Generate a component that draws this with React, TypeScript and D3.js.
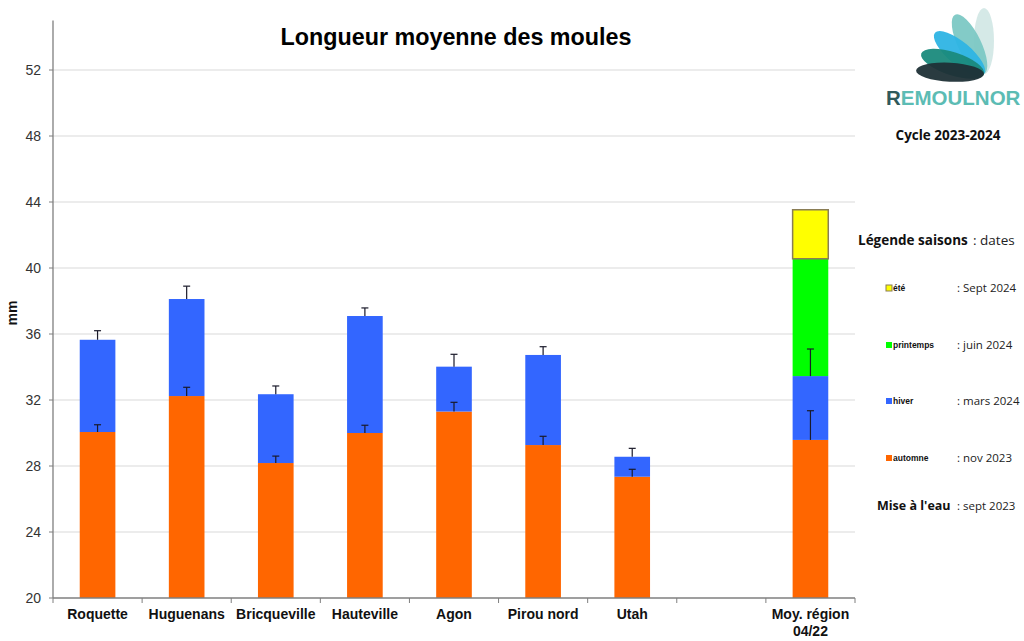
import React from "react";
import * as d3 from "d3";

const categories = ["Roquette", "Huguenans", "Bricqueville", "Hauteville", "Agon", "Pirou nord", "Utah", "", "Moy. région|04/22"];
const automne: (number | null)[] = [30.06, 32.24, 28.18, 30.0, 31.3, 29.27, 27.35, null, 29.58];
const automneErr: (number | null)[] = [0.44, 0.53, 0.42, 0.47, 0.56, 0.53, 0.45, null, 1.77];
const hiver: (number | null)[] = [35.65, 38.12, 32.35, 37.09, 34.02, 34.73, 28.56, null, 33.45];
const hiverErr: (number | null)[] = [0.55, 0.78, 0.5, 0.49, 0.75, 0.5, 0.51, null, 1.64];
const printemps: (number | null)[] = [null, null, null, null, null, null, null, null, 40.56];
const ete: (number | null)[] = [null, null, null, null, null, null, null, null, 43.53];
const yTicks = [20, 24, 28, 32, 36, 40, 44, 48, 52];

const legendItems = [
  { label: "été", date: ": Sept 2024", color: "#FFFF00", stroke: "#8a7d55", y: 288 },
  { label: "printemps", date: ":  juin 2024", color: "#00FF00", stroke: "none", y: 345 },
  { label: "hiver", date: ": mars 2024", color: "#3366FF", stroke: "none", y: 401 },
  { label: "automne", date: ": nov 2023", color: "#FF6600", stroke: "none", y: 458 },
];

const COLORS = { automne: "#FF6600", hiver: "#3366FF", printemps: "#00FF00", ete: "#FFFF00" };

export default function App() {
  const W = 1024, H = 641;
  const x0 = 53, x1 = 855, yTop = 20.5, yBot = 598;
  const x = d3.scaleBand<number>().domain(d3.range(categories.length)).range([x0, x1]).padding(0);
  const y = d3.scaleLinear().domain([20, 55]).range([yBot, yTop]);
  const bw = x.bandwidth() * 0.4;
  const font = "Arial, 'Liberation Sans', sans-serif";

  const segs: { i: number; lo: number; hi: number; color: string; stroke?: string }[] = [];
  categories.forEach((_, i) => {
    const layers = [
      { v: automne[i], c: COLORS.automne },
      { v: hiver[i], c: COLORS.hiver },
      { v: printemps[i], c: COLORS.printemps },
      { v: ete[i], c: COLORS.ete, s: "#8a7d55" },
    ];
    let prev = 20;
    layers.forEach((l) => {
      if (l.v != null) {
        segs.push({ i, lo: prev, hi: l.v, color: l.c, stroke: (l as any).s });
        prev = l.v;
      }
    });
  });

  const errs: { i: number; v: number; e: number }[] = [];
  categories.forEach((_, i) => {
    if (automne[i] != null && automneErr[i] != null) errs.push({ i, v: automne[i]!, e: automneErr[i]! });
    if (hiver[i] != null && hiverErr[i] != null) errs.push({ i, v: hiver[i]!, e: hiverErr[i]! });
  });

  const pivot = { x: 984, y: 74 };
  const petals = [
    { ang: 90, len: 66, ry: 10, color: "#d3e8e6" },
    { ang: 64, len: 66, ry: 11.5, color: "#7cc8c4" },
    { ang: 40, len: 64, ry: 11.5, color: "#2eb4e4" },
    { ang: 18, len: 66, ry: 11.5, color: "#1a8a7c" },
    { ang: 3, len: 68, ry: 9.5, color: "#1f3036" },
  ];

  return (
    <div style={{ position: "absolute", left: 0, top: 0 }}>
      <svg width={W} height={H} style={{ display: "block", background: "#fff" }} fontFamily={font}>
        <rect width={W} height={H} fill="#fff" />
        {yTicks.filter((t) => t > 20).map((t) => (
          <line key={"g" + t} x1={x0} x2={x1} y1={y(t)} y2={y(t)} stroke="#d9d9d9" strokeWidth={1} />
        ))}
        {segs.map((s, k) => (
          <rect key={"s" + k}
            x={x(s.i)! + (x.bandwidth() - bw) / 2}
            y={y(s.hi)}
            width={bw}
            height={y(s.lo) - y(s.hi)}
            fill={s.color}
            stroke={s.stroke || "none"}
            strokeWidth={s.stroke ? 1.5 : 0}
          />
        ))}
        {errs.map((e, k) => {
          const cx = x(e.i)! + x.bandwidth() / 2;
          return (
            <g key={"e" + k} stroke="#1a1a2a" strokeWidth={1.2}>
              <line x1={cx} x2={cx} y1={y(e.v)} y2={y(e.v + e.e)} />
              <line x1={cx - 3.5} x2={cx + 3.5} y1={y(e.v + e.e)} y2={y(e.v + e.e)} />
            </g>
          );
        })}
        <line x1={x0} x2={x0} y1={yTop} y2={yBot} stroke="#7f7f7f" strokeWidth={1.3} />
        <line x1={x0} x2={x1} y1={yBot} y2={yBot} stroke="#7f7f7f" strokeWidth={1.3} />
        {yTicks.map((t) => (
          <g key={"yt" + t}>
            <line x1={x0 - 4} x2={x0} y1={y(t)} y2={y(t)} stroke="#7f7f7f" strokeWidth={1} />
            <text x={41} y={y(t)} dy="0.35em" textAnchor="end" fontSize={14} fill="#333">{t}</text>
          </g>
        ))}
        {d3.range(categories.length + 1).map((i) => {
          const px = i < categories.length ? x(i)! : x1;
          return <line key={"xt" + i} x1={px} x2={px} y1={yBot} y2={yBot + 5} stroke="#7f7f7f" strokeWidth={1} />;
        })}
        {categories.map((c, i) => {
          const cx = x(i)! + x.bandwidth() / 2;
          const lines = c.split("|");
          return (
            <text key={"xl" + i} x={cx} y={619} textAnchor="middle" fontSize={14} fontWeight="bold" fill="#111">
              {lines.map((l, j) => (
                <tspan key={j} x={cx} dy={j === 0 ? 0 : 17}>{l}</tspan>
              ))}
            </text>
          );
        })}
        <text transform="translate(17,313) rotate(-90)" textAnchor="middle" fontSize={14} fontWeight="bold" fill="#111">mm</text>
        <text x={456} y={45} textAnchor="middle" fontSize={23.3} fontWeight="bold" fill="#000">Longueur moyenne des moules</text>

        {petals.map((p, k) => {
          const rad = (p.ang * Math.PI) / 180;
          const cx = pivot.x - Math.cos(rad) * p.len / 2;
          const cy = pivot.y - Math.sin(rad) * p.len / 2;
          return (
            <ellipse key={"p" + k} cx={cx} cy={cy} rx={p.len / 2} ry={p.ry} fill={p.color} opacity={0.95}
              transform={`rotate(${p.ang} ${cx} ${cy})`} />
          );
        })}
        <text x={886} y={105} fontSize={20.5} fontWeight="bold">
          <tspan fill="#2f5a5c">R</tspan><tspan fill="#5cbcb4">EMOULNOR</tspan>
        </text>
        <text x={948} y={140} textAnchor="middle" fontSize={13.5} fontWeight="bold" fill="#111" fontFamily="'Open Sans', sans-serif">Cycle 2023-2024</text>

        <text x={858} y={245} fontSize={13.5} fontWeight="bold" fill="#111" fontFamily="'Open Sans', sans-serif">Légende saisons</text>
        <text x={973} y={245} fontSize={13.5} fill="#222" fontFamily="'Open Sans', sans-serif">:  dates</text>
        {legendItems.map((l) => (
          <g key={l.label}>
            <rect x={886} y={l.y - 3} width={6} height={6} fill={l.color} stroke={l.stroke} strokeWidth={l.stroke === "none" ? 0 : 1} />
            <text x={893} y={l.y + 3} fontSize={8.5} fontWeight="bold" fill="#111">{l.label}</text>
            <text x={957} y={l.y + 4} fontSize={11.5} fill="#222" fontFamily="'Open Sans', sans-serif">{l.date}</text>
          </g>
        ))}
        <text x={877} y={510} fontSize={12.5} fontWeight="bold" fill="#111" fontFamily="'Open Sans', sans-serif">Mise à l'eau</text>
        <text x={957} y={510} fontSize={11.5} fill="#222" fontFamily="'Open Sans', sans-serif">: sept 2023</text>
      </svg>
    </div>
  );
}
